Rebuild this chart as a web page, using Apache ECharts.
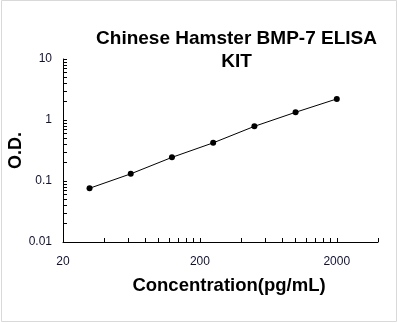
<!DOCTYPE html>
<html>
<head>
<meta charset="utf-8">
<script src="https://cdn.jsdelivr.net/npm/echarts@6/dist/echarts.min.js"></script>
<style>
  html, body { margin: 0; padding: 0; background: #fff; }
  #chart { width: 398px; height: 323px; }
</style>
</head>
<body>
<div id="chart"></div>
<script>
// Standard curve: concentration (pg/mL) vs optical density
const concentrations = [31.25, 62.5, 125, 250, 500, 1000, 2000];
const odValues = [0.076, 0.131, 0.244, 0.422, 0.787, 1.339, 2.215];

// Axis labels and tick positions (log scales)
const xTickLabels = [20, 200, 2000];
const xTickMarks = [20, 40, 60, 80, 100, 120, 140, 160, 180, 200,
  400, 600, 800, 1000, 1200, 1400, 1600, 1800, 2000, 4000];
const yTickLabels = [0.01, 0.1, 1, 10];
const yTickMarks = [0.01, 0.02, 0.03, 0.04, 0.05, 0.06, 0.07, 0.08, 0.09,
  0.1, 0.2, 0.3, 0.4, 0.5, 0.6, 0.7, 0.8, 0.9,
  1, 2, 3, 4, 5, 6, 7, 8, 9, 10];

const titleLines = ['Chinese Hamster BMP-7 ELISA', 'KIT'];
const xName = 'Concentration(pg/mL)';
const yName = 'O.D.';

const chart = echarts.init(document.getElementById('chart'), null, { renderer: 'canvas' });

const fontFamily = 'Liberation Sans, Arial, sans-serif';
const labelStyle = { fontFamily: fontFamily, fontSize: 12, color: '#111133' };

chart.setOption({
  animation: false,
  backgroundColor: '#fff',
  graphic: [{
    type: 'rect',
    shape: { x: 1.5, y: 0.5, width: 395, height: 321 },
    style: { fill: 'none', stroke: '#d9d9d9', lineWidth: 1 },
    silent: true
  }, {
    type: 'text',
    x: 236.5,
    y: 27,
    style: {
      text: titleLines.join('\n'),
      align: 'center',
      verticalAlign: 'top',
      fontFamily: fontFamily,
      fontWeight: 'bold',
      fontSize: 19,
      lineHeight: 23,
      fill: '#000'
    },
    silent: true
  }],
  grid: { left: 63, right: 20, top: 59, bottom: 81, containLabel: false, outerBoundsMode: 'none' },
  xAxis: {
    type: 'log',
    logBase: 10,
    min: 20,
    max: 4000,
    name: xName,
    nameLocation: 'middle',
    nameGap: 34,
    nameMoveOverlap: false,
    nameTextStyle: { fontFamily: fontFamily, fontWeight: 'bold', fontSize: 18.5, color: '#000', padding: [0, 0, 0, 17] },
    axisLine: { show: true, lineStyle: { color: '#000', width: 1 } },
    axisTick: { show: true, inside: true, length: 4, customValues: xTickMarks, lineStyle: { color: '#000' } },
    axisLabel: { show: true, margin: 14, customValues: xTickLabels, formatter: v => String(v), ...labelStyle },
    splitLine: { show: false },
    minorTick: { show: false }
  },
  yAxis: {
    type: 'log',
    logBase: 10,
    min: 0.01,
    max: 10,
    name: yName,
    nameLocation: 'middle',
    nameGap: 38,
    nameRotate: 90,
    nameMoveOverlap: false,
    nameTextStyle: { fontFamily: fontFamily, fontWeight: 'bold', fontSize: 18, color: '#000' },
    axisLine: { show: true, lineStyle: { color: '#000', width: 1 } },
    axisTick: { show: true, inside: true, length: 4, customValues: yTickMarks, lineStyle: { color: '#000' } },
    axisLabel: { show: true, margin: 11, customValues: yTickLabels, formatter: v => String(v), ...labelStyle },
    splitLine: { show: false },
    minorTick: { show: false }
  },
  series: [{
    type: 'line',
    data: concentrations.map((c, i) => [c, odValues[i]]),
    symbol: 'circle',
    symbolSize: 6,
    itemStyle: { color: '#000' },
    lineStyle: { color: '#000', width: 1 }
  }]
});
</script>
</body>
</html>
